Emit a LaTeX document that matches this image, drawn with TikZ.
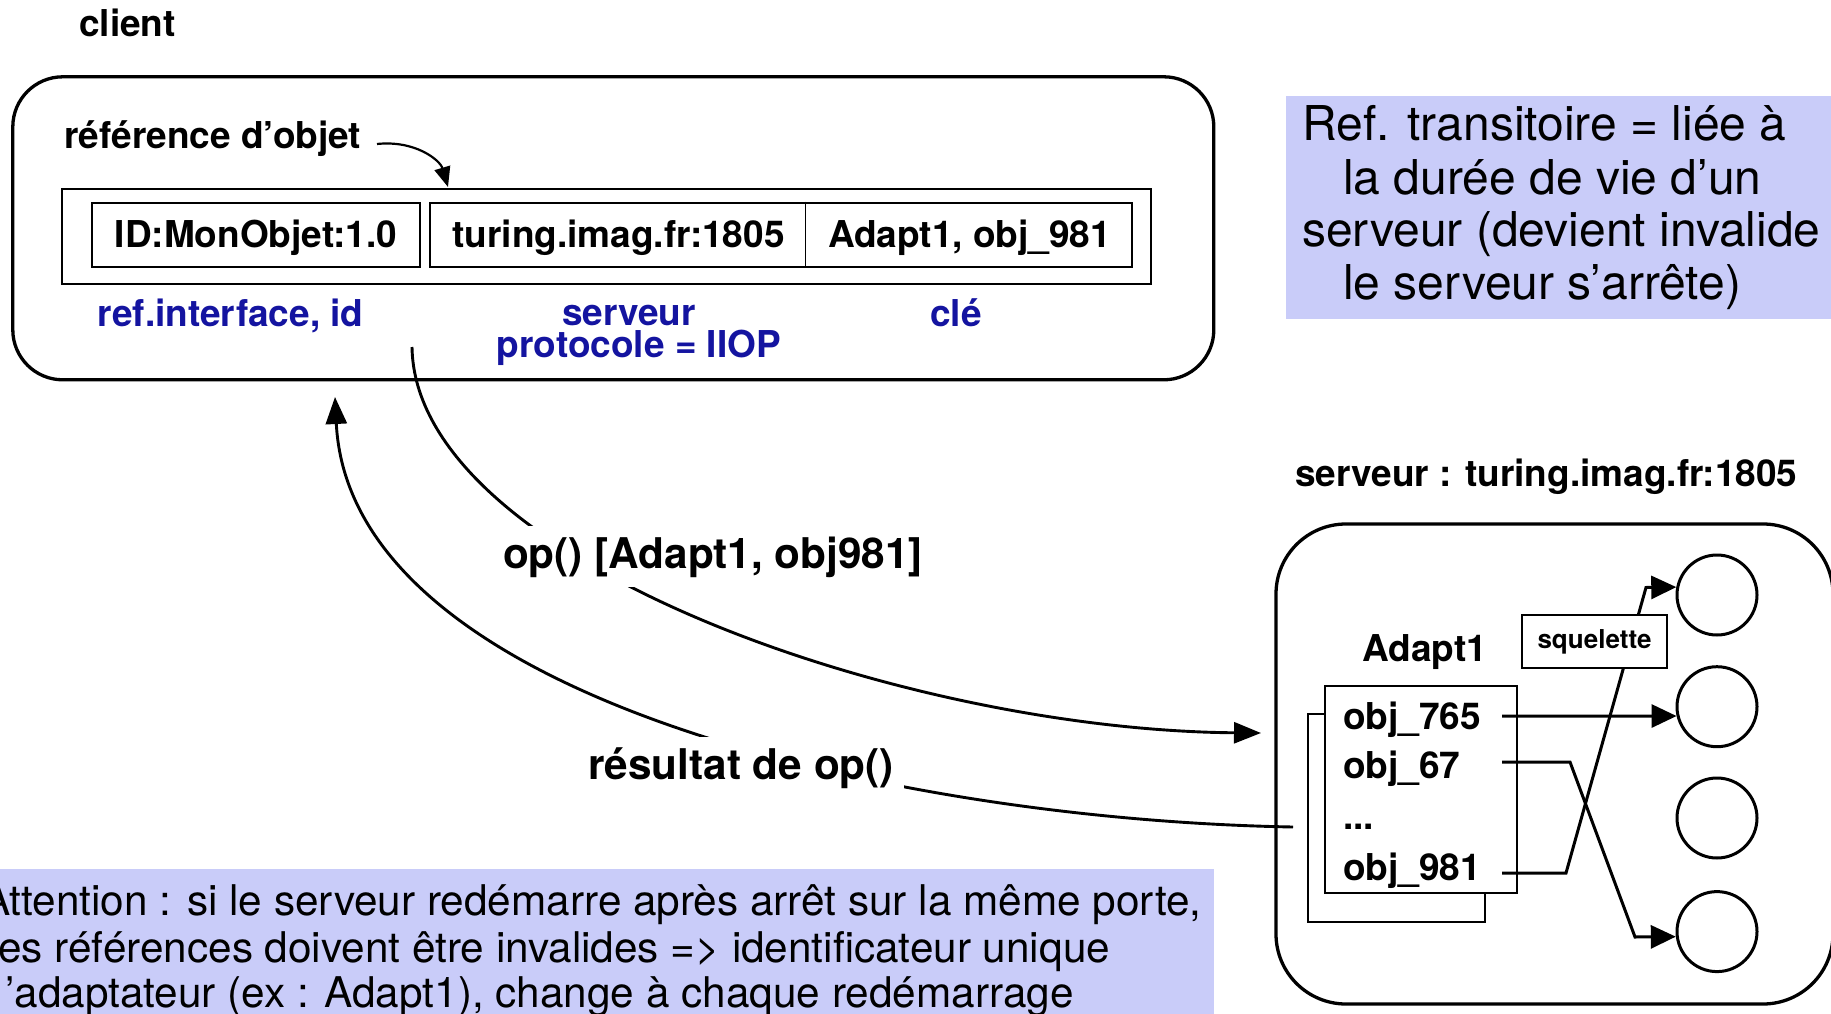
\documentclass[tikz,border=0pt]{standalone}
\usepackage{fontspec}
\setmainfont{TeX Gyre Heros}
\usetikzlibrary{arrows.meta,calc}
\definecolor{lblue}{RGB}{20,20,160}
\definecolor{lav}{RGB}{201,204,249}
\begin{document}
\begin{tikzpicture}[x=1pt,y=-1pt,
  lab/.style={font=\fontsize{37}{44}\selectfont\bfseries, inner sep=0pt, anchor=base west},
  clab/.style={font=\fontsize{37}{44}\selectfont\bfseries, inner sep=0pt, anchor=base},
  blab/.style={clab, text=lblue},
  biglab/.style={font=\fontsize{42.3}{47}\selectfont\bfseries, fill=white, inner sep=10pt, anchor=base},
  note/.style={font=\fontsize{48}{53}\selectfont, inner sep=0pt, anchor=base west},
  noteb/.style={font=\fontsize{42.3}{47}\selectfont, inner sep=0pt, anchor=base west},
  box/.style={draw, inner sep=0pt},
  obj/.style={draw, circle, line width=3pt, minimum size=80pt, inner sep=0pt},
  carr/.style={line width=2.9pt, -{Triangle[length=27pt,width=21pt]}},
  sarr/.style={line width=3pt, -{Triangle[length=25pt,width=23pt]}},
  rarr/.style={line width=2.2pt, -{Triangle[length=20pt,width=16pt]}}]
\useasboundingbox (0,0) rectangle (1831,1014);

% ---------- client ----------
\node[lab] (clientlab) at (79,37) {client};
\node[box, line width=3.3pt, rounded corners=50pt, minimum width=1201pt, minimum height=303pt] (client) at (613.3,228.3) {};
\node[lab] (refl) at (64,149) {référence d’objet};
\node[box, line width=2.5pt, minimum width=1089pt, minimum height=95pt] (ref) at (606.5,236.5) {};
\node[box, line width=2.8pt, minimum width=328pt, minimum height=64pt] (cell1) at (256,235) {};
\node[box, line width=2.8pt, minimum width=702pt, minimum height=64pt] (cell23) at (781,235) {};
\draw[line width=1.5pt] (cell23.north west) ++(377,0) coordinate (divtop) -- (divtop |- cell23.south);
\node[clab] (t1) at (256,247) {ID:MonObjet:1.0};
\node[clab] (t2) at (618.5,247) {turing.imag.fr:1805};
\node[clab] (t3) at (969.5,247) {Adapt1, obj\_981};
\node[blab] (b1) at (230.6,326) {ref.interface, id};
\node[blab] (b2) at (629,325) {serveur};
\node[blab] (b3) at (639,357) {protocole = IIOP};
\node[blab] (b4) at (956,326) {clé};
\coordinate (rs) at (377,144);
\coordinate (re) at (448,187);
\draw[rarr] (rs) .. controls (415,140) and (440,160) .. (re);

% ---------- notes ----------
\node[fill=lav, minimum width=549pt, minimum height=223pt, inner sep=0pt] (transbox) at (1560.5,207.3) {};
\node[note] (n1) at (1302,141) {Ref. transitoire = liée à};
\node[note] (n2) at (1343,194) {la durée de vie d’un};
\node[note] (n3) at (1302,246) {serveur (devient invalide};
\node[note] (n4) at (1343,299) {le serveur s’arrête)};

\node[fill=lav, minimum width=1224pt, minimum height=150pt, inner sep=0pt] (attbox) at (602,944) {};
\node[noteb] (a1) at (-18,915) {Attention : si le serveur redémarre après arrêt sur la même porte,};
\node[noteb] (a2) at (-2,962) {es références doivent être invalides => identificateur unique};
\node[noteb] (a3) at (5,1007) {’adaptateur (ex : Adapt1), change à chaque redémarrage};

% ---------- server ----------
\node[lab] (servlab) at (1295,486) {serveur : turing.imag.fr:1805};
\node[box, line width=3.3pt, rounded corners=70pt, minimum width=557pt, minimum height=480pt] (server) at (1554.5,764) {};
\node[box, line width=2.3pt, minimum width=177pt, minimum height=208pt] (back) at (1396.5,818) {};
\node[box, line width=2.3pt, fill=white, minimum width=192pt, minimum height=207pt] (front) at (1421,789.5) {};
\node[lab] (adapt) at (1362,661) {Adapt1};
\node[lab] (o765) at (1343,729) {obj\_765};
\node[lab] (o67) at (1343,778) {obj\_67};
\node[lab] (odots) at (1343,829) {...};
\node[lab] (o981) at (1343,880) {obj\_981};
\node[obj] (c1) at (1717,595) {};
\node[obj] (c2) at (1717,706.7) {};
\node[obj] (c3) at (1717,818) {};
\node[obj] (c4) at (1717,931.6) {};
\coordinate (s765) at (1502,716);
\coordinate (s67) at (1502,762);
\coordinate (s981) at (1502,873);
\draw[sarr] (s765) -- (c2.193);
\draw[sarr] (s67) -- (1570,762) -- (1635,937) -- (c4.187);
\draw[sarr] (s981) -- (1566,873) -- (1646,587.5) -- (c1.169);
\node[box, line width=2.3pt, fill=white, minimum width=145pt, minimum height=53pt, font=\fontsize{26}{30}\selectfont\bfseries] (sq) at (1594.5,641.5) {squelette};

% ---------- calls ----------
\coordinate (opstart) at (412,347);
\coordinate (opend) at (1261,733);
\draw[carr] (opstart) .. controls (415,560) and (900,730) .. (opend);
\coordinate (resstart) at (1293,827);
\coordinate (resend) at (335,397);
\draw[carr] (resstart) .. controls (900,820) and (350,700) .. (resend);
\node[biglab] (oplab) at (713,568) {op() [Adapt1, obj981]};
\node[biglab] (reslab) at (741,779) {résultat de op()};
\end{tikzpicture}
\end{document}
